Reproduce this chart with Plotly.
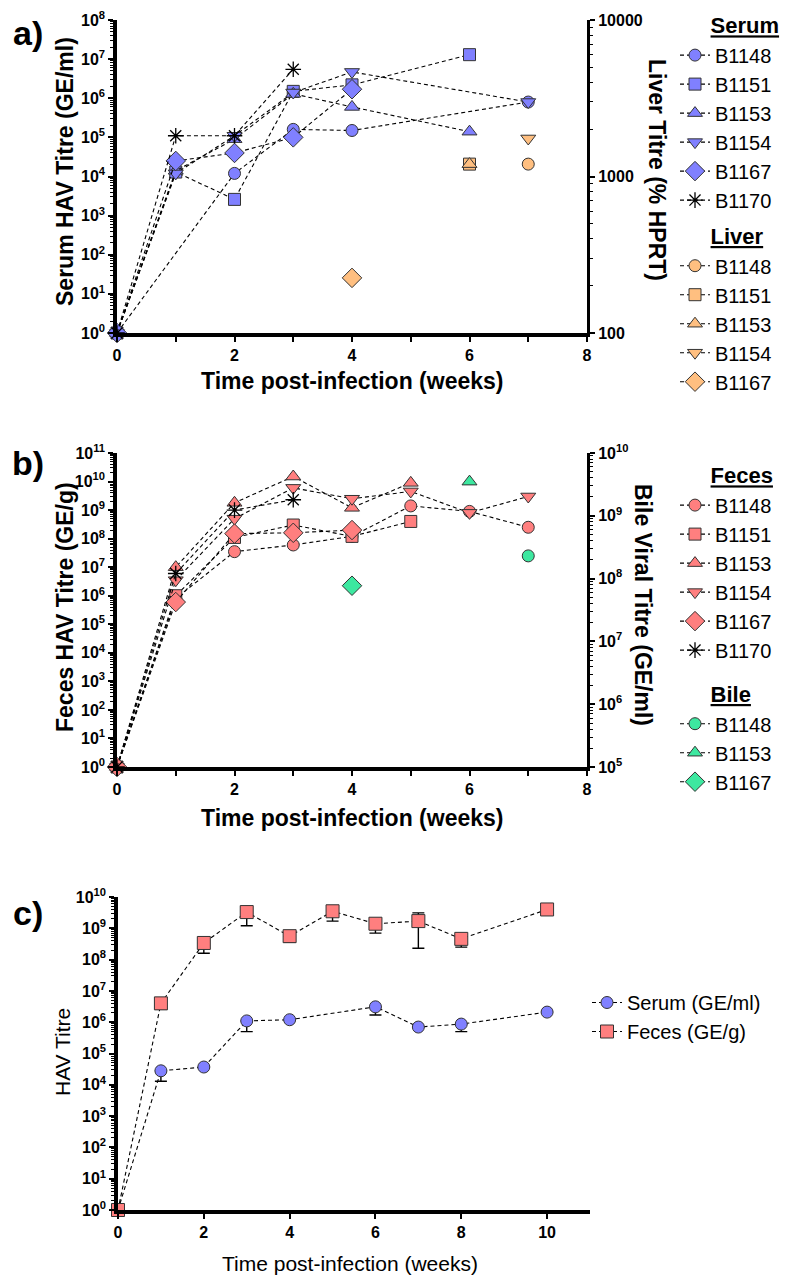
import plotly.graph_objects as go

W, H = 791, 1277

# ---------------- Panel a : serum (GE/ml), left axis ----------------
serum_B1148_weeks = [0, 2, 3, 4, 7]
serum_B1148_titre = [1, 1.2e4, 1.6e5, 1.5e5, 8e5]
serum_B1151_weeks = [0, 1, 2, 3, 4, 6]
serum_B1151_titre = [1, 1.3e4, 2.6e3, 1.5e6, 2.2e6, 1.3e7]
serum_B1153_weeks = [0, 1, 2, 3, 4, 6]
serum_B1153_titre = [1, 1.4e4, 9e4, 1.3e6, 6e5, 1.4e5]
serum_B1154_weeks = [0, 1, 2, 3, 4, 7]
serum_B1154_titre = [1, 1.2e4, 1.1e5, 1.4e6, 4.7e6, 8e5]
serum_B1167_weeks = [0, 1, 2, 3, 4]
serum_B1167_titre = [1, 2.5e4, 4e4, 1e5, 1.7e6]
serum_B1170_weeks = [0, 1, 2, 3]
serum_B1170_titre = [1, 1.1e5, 1.1e5, 5.5e6]

# Panel a : liver (% HPRT), right axis
liver_names = ["B1148", "B1151", "B1153", "B1154", "B1167"]
liver_weeks = [7, 6, 6, 7, 4]
liver_titre = [1200, 1200, 1200, 1750, 225]

# ---------------- Panel b : feces (GE/g), left axis ----------------
feces_B1148_weeks = [0, 1, 2, 3, 4, 5, 6, 7]
feces_B1148_titre = [1, 8e5, 3.5e7, 6e7, 1.2e8, 1.4e9, 9e8, 2.5e8]
feces_B1151_weeks = [0, 1, 2, 3, 4, 5]
feces_B1151_titre = [1, 1e6, 1.1e8, 3e8, 1.2e8, 4e8]
feces_B1153_weeks = [0, 1, 2, 3, 4, 5]
feces_B1153_titre = [1, 1e7, 1.8e9, 1.5e10, 1.2e9, 9e9]
feces_B1154_weeks = [0, 1, 2, 3, 4, 5, 6, 7]
feces_B1154_titre = [1, 3.5e6, 5e8, 6e9, 2.5e9, 4.5e9, 8e8, 3e9]
feces_B1167_weeks = [0, 1, 2, 3, 4]
feces_B1167_titre = [1, 6e5, 1.5e8, 1.6e8, 2e8]
feces_B1170_weeks = [0, 1, 2, 3]
feces_B1170_titre = [1, 6e6, 1e9, 2.3e9]

# Panel b : bile (GE/ml), right axis
bile_names = ["B1148", "B1153", "B1167"]
bile_weeks = [7, 6, 4]
bile_titre = [2.3e8, 3.5e9, 7.7e7]

# ---------------- Panel c : means with error bars ----------------
c_weeks = [0, 1, 2, 3, 4, 5, 6, 7, 8, 10]
c_serum_weeks = [0, 1, 2, 3, 4, 6, 7, 8, 10]
c_serum = [1, 2.8e4, 3.7e4, 1.1e6, 1.2e6, 3.1e6, 7e5, 8.7e5, 2.1e6]
c_serum_low = [1, 1.3e4, 3.7e4, 5e5, 1.2e6, 1.7e6, 7e5, 5e5, 2.1e6]
c_feces = [1, 4e6, 3.4e8, 3.3e9, 5.6e8, 3.5e9, 1.4e9, 1.7e9, 4.6e8, 4e9]
c_feces_high = [1, 4e6, 3.4e8, 4.8e9, 5.6e8, 3.5e9, 1.4e9, 3.1e9, 4.6e8, 4e9]
c_feces_low = [1, 2.6e6, 1.6e8, 1.2e9, 3.6e8, 1.7e9, 7e8, 2.3e8, 2.5e8, 4e9]

x_ticks_ab = [0, 1, 2, 3, 4, 5, 6, 7, 8]
x_ticktext_ab = ["0", "", "2", "", "4", "", "6", "", "8"]
x_ticks_c = [0, 2, 4, 6, 8, 10]

SERUM = "#8080FF"
LIVER = "#FFBF80"
FECES = "#FF7F7F"
BILE = "#3DE8A0"
EDGE = "#333333"
FONT = "Liberation Sans"

symbols = {"B1148": "circle", "B1151": "square", "B1153": "triangle-up",
           "B1154": "triangle-down", "B1167": "diamond", "B1170": "asterisk-open"}
sizes = {"circle": 12, "square": 12, "triangle-up": 13, "triangle-down": 13,
         "diamond": 15, "asterisk-open": 13}

fig = go.Figure()
dash_line = dict(color="black", width=1.1, dash="4px,3px")


def add_series(name, weeks, vals, color, xa, ya, legend, group, gtitle):
    sym = symbols[name]
    if sym == "asterisk-open":
        marker = dict(symbol=sym, size=sizes[sym], color="black",
                      line=dict(color="black", width=1.3))
    else:
        marker = dict(symbol=sym, size=sizes[sym], color=color,
                      line=dict(color=EDGE, width=1))
    fig.add_trace(go.Scatter(
        x=weeks, y=vals, mode="lines+markers", name=name,
        line=dash_line, marker=marker, xaxis=xa, yaxis=ya, cliponaxis=False,
        legend=legend, legendgroup=group, legendgrouptitle_text=gtitle))


NB = "\u00a0" * 5
GT_SERUM = NB + "<u>Serum</u>"
GT_LIVER = NB + "<u>Liver</u>"
GT_FECES = NB + "<u>Feces</u>"
GT_BILE = NB + "<u>Bile</u>"

# panel a
serum_sets = [("B1148", serum_B1148_weeks, serum_B1148_titre),
              ("B1151", serum_B1151_weeks, serum_B1151_titre),
              ("B1153", serum_B1153_weeks, serum_B1153_titre),
              ("B1154", serum_B1154_weeks, serum_B1154_titre),
              ("B1167", serum_B1167_weeks, serum_B1167_titre),
              ("B1170", serum_B1170_weeks, serum_B1170_titre)]
for n, w, v in serum_sets:
    add_series(n, w, v, SERUM, "x", "y", "legend", "serum", GT_SERUM)
for n, w, v in zip(liver_names, liver_weeks, liver_titre):
    add_series(n, [w], [v], LIVER, "x", "y2", "legend", "liver", GT_LIVER)

# panel b
feces_sets = [("B1148", feces_B1148_weeks, feces_B1148_titre),
              ("B1151", feces_B1151_weeks, feces_B1151_titre),
              ("B1153", feces_B1153_weeks, feces_B1153_titre),
              ("B1154", feces_B1154_weeks, feces_B1154_titre),
              ("B1167", feces_B1167_weeks, feces_B1167_titre),
              ("B1170", feces_B1170_weeks, feces_B1170_titre)]
for n, w, v in feces_sets:
    add_series(n, w, v, FECES, "x2", "y3", "legend2", "feces", GT_FECES)
for n, w, v in zip(bile_names, bile_weeks, bile_titre):
    add_series(n, [w], [v], BILE, "x2", "y4", "legend2", "bile", GT_BILE)

# panel c
fig.add_trace(go.Scatter(
    x=c_serum_weeks, y=c_serum, mode="lines+markers", name="Serum (GE/ml)",
    line=dash_line, marker=dict(symbol="circle", size=12, color=SERUM, line=dict(color=EDGE, width=1)),
    error_y=dict(type="data", symmetric=False, array=[0] * len(c_serum),
                 arrayminus=[v - l for v, l in zip(c_serum, c_serum_low)],
                 color="black", thickness=1.4, width=6),
    xaxis="x3", yaxis="y5", cliponaxis=False, legend="legend3"))
fig.add_trace(go.Scatter(
    x=c_weeks, y=c_feces, mode="lines+markers", name="Feces (GE/g)",
    line=dash_line, marker=dict(symbol="square", size=13, color=FECES, line=dict(color=EDGE, width=1)),
    error_y=dict(type="data", symmetric=False,
                 array=[h - v for v, h in zip(c_feces, c_feces_high)],
                 arrayminus=[v - l for v, l in zip(c_feces, c_feces_low)],
                 color="black", thickness=1.4, width=6),
    xaxis="x3", yaxis="y5", cliponaxis=False, legend="legend3"))


def pow_ticks(lo, hi):
    vals = [10 ** k for k in range(lo, hi + 1)]
    text = ["10<sup>%d</sup>" % k for k in range(lo, hi + 1)]
    minor = [m * 10 ** k for k in range(lo, hi) for m in range(2, 10)]
    return vals, text, minor


tick_font = dict(family=FONT, size=16, color="black", weight="bold")
common_axis = dict(showline=True, linecolor="black", linewidth=3.5, ticks="outside",
                   ticklen=5, tickwidth=2, tickcolor="black", showgrid=False,
                   zeroline=False, tickfont=tick_font, mirror=False)

xa_dom = [117 / W, 587 / W]
ya_dom = [1 - 333 / H, 1 - 20 / H]
yb_dom = [1 - 767 / H, 1 - 453 / H]
xc_dom = [118 / W, 590 / W]
yc_dom = [1 - 1210 / H, 1 - 897 / H]


def log_axis(lo, hi, dom, anchor, side="left", overlay=None, texts=None, lw=3.5):
    vals, text, minor = pow_ticks(lo, hi)
    if texts is not None:
        text = texts
    d = dict(common_axis)
    d.update(type="log", range=[lo, hi], tickmode="array", tickvals=vals, ticktext=text,
             anchor=anchor, side=side, linewidth=lw,
             minor=dict(tickmode="array", tickvals=minor, ticks="outside", ticklen=3,
                        tickwidth=1, tickcolor="black"))
    if overlay:
        d["overlaying"] = overlay
    else:
        d["domain"] = dom
    return d


leg_font = dict(family=FONT, size=20, color="black")
gt_font = dict(family=FONT, size=22, color="black", weight="bold")

fig.update_layout(
    width=W, height=H, autosize=False,
    margin=dict(l=0, r=0, t=0, b=0, autoexpand=False),
    plot_bgcolor="white", paper_bgcolor="white", showlegend=True,
    xaxis=dict(common_axis, domain=xa_dom, range=[0, 8], anchor="y", tickmode="array",
               tickvals=x_ticks_ab, ticktext=x_ticktext_ab),
    yaxis=log_axis(0, 8, ya_dom, "x"),
    yaxis2=log_axis(2, 4, ya_dom, "x", side="right", overlay="y",
                    texts=["100", "1000", "10000"], lw=3),
    xaxis2=dict(common_axis, domain=xa_dom, range=[0, 8], anchor="y3", tickmode="array",
                tickvals=x_ticks_ab, ticktext=x_ticktext_ab),
    yaxis3=log_axis(0, 11, yb_dom, "x2"),
    yaxis4=log_axis(5, 10, yb_dom, "x2", side="right", overlay="y3", lw=3),
    xaxis3=dict(common_axis, domain=xc_dom, range=[0, 11], anchor="y5", tickmode="array",
                tickvals=x_ticks_c, ticktext=[str(v) for v in x_ticks_c]),
    yaxis5=log_axis(0, 10, yc_dom, "x3"),
    legend=dict(x=675 / W, y=1 - 4 / H, xanchor="left", yanchor="top",
                font=leg_font, grouptitlefont=gt_font,
                traceorder="grouped", tracegroupgap=5, bgcolor="rgba(0,0,0,0)"),
    legend2=dict(x=675 / W, y=1 - 454 / H, xanchor="left", yanchor="top",
                 font=leg_font, grouptitlefont=gt_font,
                 traceorder="grouped", tracegroupgap=13, bgcolor="rgba(0,0,0,0)"),
    legend3=dict(x=587 / W, y=1 - 983 / H, xanchor="left", yanchor="top",
                 font=leg_font, bgcolor="rgba(0,0,0,0)"),
)

title_bold = dict(family=FONT, size=23, color="black", weight="bold")
title_reg = dict(family=FONT, size=21, color="black")
ann = [
    ("a)", 28, 33, 0, dict(family=FONT, size=34, color="black", weight="bold")),
    ("b)", 28, 463, 0, dict(family=FONT, size=34, color="black", weight="bold")),
    ("c)", 28, 913, 0, dict(family=FONT, size=34, color="black", weight="bold")),
    ("Serum HAV Titre (GE/ml)", 65, 172, -90, title_bold),
    ("Liver Titre (% HPRT)", 657, 170, 90, title_bold),
    ("Time post-infection (weeks)", 352, 381, 0, title_bold),
    ("Feces HAV Titre (GE/g)", 65, 607, -90, title_bold),
    ("Bile Viral Titre (GE/ml)", 643, 605, 90, title_bold),
    ("Time post-infection (weeks)", 352, 818, 0, title_bold),
    ("HAV Titre", 62, 1052, -90, title_reg),
    ("Time post-infection (weeks)", 350, 1263, 0, title_reg),
]
for t, x, y, ang, f in ann:
    fig.add_annotation(text=t, x=x / W, y=1 - y / H, xref="paper", yref="paper",
                       showarrow=False, textangle=ang, font=f,
                       xanchor="center", yanchor="middle")

fig.write_html("out.html", config={"displayModeBar": False},
               post_script="document.body.style.margin='0';document.body.style.overflow='hidden';")
